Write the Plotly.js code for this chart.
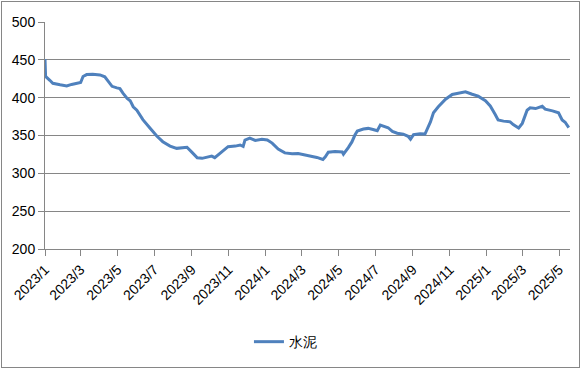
<!DOCTYPE html>
<html>
<head>
<meta charset="utf-8">
<script src="https://cdn.plot.ly/plotly-3.0.1.min.js"></script>
<style>
  html, body { margin: 0; padding: 0; background: #fff; }
  #frame { position: absolute; left: 1px; top: 1px; width: 577px; height: 365px; border: 1px solid #868686; }
  #chart { width: 577px; height: 365px; }
</style>
</head>
<body>
<div id="frame"><div id="chart"></div></div>
<script>
const seriesName = "水泥";
const dates = [
  "2023-01-01","2023-01-02","2023-01-09","2023-01-14","2023-01-26","2023-02-06","2023-02-14","2023-02-23",
  "2023-03-01","2023-03-05","2023-03-11","2023-03-21","2023-04-02","2023-04-10","2023-04-15","2023-04-22",
  "2023-04-30","2023-05-05","2023-05-10","2023-05-17","2023-05-22","2023-05-27","2023-06-02","2023-06-12",
  "2023-06-24","2023-07-05","2023-07-15","2023-07-27","2023-08-07","2023-08-17","2023-08-24","2023-09-01",
  "2023-09-10","2023-09-18","2023-09-26","2023-10-04","2023-10-09","2023-10-14","2023-10-23","2023-10-31",
  "2023-11-12","2023-11-20","2023-11-25","2023-11-28","2023-12-06","2023-12-15","2023-12-26","2024-01-04",
  "2024-01-12","2024-01-22","2024-02-02","2024-02-14","2024-02-24","2024-03-03","2024-03-13","2024-03-26",
  "2024-04-05","2024-04-09","2024-04-14","2024-04-25","2024-05-07","2024-05-09","2024-05-17","2024-05-23",
  "2024-05-28","2024-06-01","2024-06-11","2024-06-19","2024-06-27","2024-07-04","2024-07-09","2024-07-17",
  "2024-07-22","2024-07-29","2024-08-06","2024-08-16","2024-08-24","2024-08-28","2024-09-02","2024-09-13",
  "2024-09-21","2024-09-30","2024-10-05","2024-10-13","2024-10-25","2024-11-05","2024-11-18","2024-11-27",
  "2024-12-08","2024-12-18","2024-12-30","2025-01-07","2025-01-15","2025-01-20","2025-01-29","2025-02-09",
  "2025-02-14","2025-02-23","2025-03-01","2025-03-09","2025-03-14","2025-03-23","2025-04-03","2025-04-08",
  "2025-04-20","2025-04-30","2025-05-06","2025-05-11","2025-05-17"
];
const values = [
  451,428,423,419,417,415.5,417.5,418.5,
  420,428,430.5,431,430,427.5,422,415,
  413,412,406,399,396,388,383.5,371,
  359.5,349.3,341.8,336,333,333.5,334.5,328,
  320.5,319.8,321,322.8,320.7,324,331,335.2,
  336,337.5,335.5,344,346.5,343.5,345,344,
  340,332,327,325.8,326.2,325,323,321,
  318.4,321.8,328,329,328.3,325.3,334,341.5,
  350.6,356,358.5,359.4,358,356.3,363.7,361.5,
  360.3,355.5,353,351.7,349,345,351,352.3,
  352,368,380,388,398,404.3,406.5,407.7,
  404.5,402,396,389,378,370.5,369,368,
  364.5,360,366,383.4,386.5,385.6,388.6,384.8,
  382.6,380,370.5,367.5,360.5
];
const xRange = ["2023-01-01", "2025-05-19"];
const yRange = [200, 500];

const grey = "#868686";
const font = { family: "Liberation Sans, Arial, sans-serif", size: 14, color: "#000" };

Plotly.newPlot("chart", [{
  type: "scatter",
  mode: "lines",
  x: dates,
  y: values,
  name: seriesName,
  line: { color: "#4F81BD", width: 3 }
}], {
  width: 577,
  height: 365,
  margin: { l: 43, r: 9, t: 20, b: 118 },
  paper_bgcolor: "#fff",
  plot_bgcolor: "#fff",
  font: font,
  showlegend: true,
  legend: {
    orientation: "h",
    x: 0.458, xanchor: "center",
    y: -0.41, yanchor: "middle",
    font: font
  },
  xaxis: {
    type: "date",
    range: xRange,
    tick0: "2023-01-01",
    dtick: "M2",
    tickformat: "%Y/%-m",
    tickangle: -45,
    ticks: "outside",
    ticklen: 6,
    tickcolor: grey,
    showline: true,
    linecolor: grey,
    linewidth: 1,
    showgrid: false,
    zeroline: false,
    tickfont: font
  },
  yaxis: {
    range: yRange,
    dtick: 50,
    ticks: "outside",
    ticklen: 6,
    tickcolor: grey,
    showline: true,
    linecolor: grey,
    linewidth: 1,
    gridcolor: grey,
    gridwidth: 1,
    zeroline: false,
    tickfont: font
  }
}, { staticPlot: true, displayModeBar: false });
</script>
</body>
</html>
